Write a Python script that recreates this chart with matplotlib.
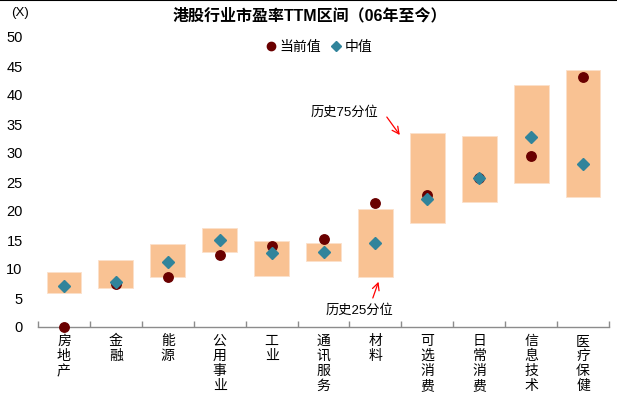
import matplotlib
matplotlib.use("Agg")
import matplotlib.pyplot as plt
import numpy as np
from matplotlib.lines import Line2D

plt.rcParams['font.family'] = ['Liberation Sans', 'Noto Sans CJK SC', 'DejaVu Sans']

categories = ["房地产", "金融", "能源", "公用事业", "工业", "通讯服务", "材料",
              "可选消费", "日常消费", "信息技术", "医疗保健"]
p75 = [9.5, 11.55, 14.3, 17.1, 14.9, 14.4, 20.3, 33.5, 32.9, 41.7, 44.3]
p25 = [5.9, 6.8, 8.7, 12.9, 8.8, 11.3, 8.6, 17.9, 21.5, 24.9, 22.4]
median = [7.1, 7.8, 11.15, 15.0, 12.7, 13.0, 14.4, 22.1, 25.7, 32.8, 28.1]
current = [0.0, 7.5, 8.6, 12.5, 13.9, 15.2, 21.4, 22.8, 25.7, 29.4, 43.1]
yticks = [0, 5, 10, 15, 20, 25, 30, 35, 40, 45, 50]

box_color = "#F9C293"
cur_color = "#6A0000"
med_color = "#31849B"

fig = plt.figure(figsize=(6.17, 3.97), dpi=100)
ax = fig.add_axes([38/617, 1-327/397, (609-38)/617, (327-37)/397])

x = np.arange(len(categories))
ax.bar(x, np.array(p75) - np.array(p25), bottom=p25, width=0.67,
       color=box_color, edgecolor="#FCE0CB", linewidth=0.6, zorder=2)
ax.plot(x, current, 'o', color=cur_color, markersize=6.8, zorder=3, clip_on=False)
ax.plot(x, median, 'D', color=med_color, markersize=5.8, zorder=4, clip_on=False)

ax.set_xlim(-0.5, len(categories) - 0.5)
ax.set_ylim(0, 50)
ax.set_yticks(yticks)
ax.set_yticklabels([str(v) for v in yticks], fontsize=10.5)
ax.tick_params(axis='y', length=0, pad=11)
for s in ['top', 'right', 'left']:
    ax.spines[s].set_visible(False)
ax.spines['bottom'].set_color('#8C8C8C')
ax.spines['bottom'].set_linewidth(1.0)

ax.set_xticks(x)
ax.set_xticklabels(["\n".join(c) for c in categories], fontsize=10,
                   linespacing=1.1, va='top')
ax.tick_params(axis='x', length=0, pad=5)
ax.set_xticks(np.arange(-0.5, len(categories), 1.0), minor=True)
ax.tick_params(axis='x', which='minor', length=4, direction='in', color='#8C8C8C', width=1.0)

# annotations
ax.text(5.4, 36.9, "历史75分位", fontsize=9.5, ha='center', va='center')
ax.annotate("", xy=(6.47, 33.1), xytext=(6.22, 36.2),
            arrowprops=dict(arrowstyle='->,head_length=0.5,head_width=0.25',
                            color='red', lw=0.9, shrinkA=0, shrinkB=0))
ax.text(5.7, 2.9, "历史25分位", fontsize=9.5, ha='center', va='center')
ax.annotate("", xy=(6.06, 7.8), xytext=(5.95, 5.0),
            arrowprops=dict(arrowstyle='->,head_length=0.5,head_width=0.25',
                            color='red', lw=0.9, shrinkA=0, shrinkB=0))

fig.text(310/617, 1-16/397, "港股行业市盈率TTM区间（06年至今）", fontsize=11.5,
         fontweight='bold', ha='center', va='center')
fig.text(20/617, 1-13/397, "(X)", fontsize=9.5, ha='center', va='center')

handles = [Line2D([], [], marker='o', color=cur_color, linestyle='None', markersize=6),
           Line2D([], [], marker='D', color=med_color, linestyle='None', markersize=5)]
fig.legend(handles, ["当前值", "中值"], loc='center', bbox_to_anchor=(318/617, 1-47/397),
           ncol=2, frameon=False, fontsize=10, handletextpad=0.1, columnspacing=0.6,
           handlelength=1.0)

fig.add_artist(Line2D([0, 1], [0.999, 0.999], transform=fig.transFigure, color='black', lw=1.5))

fig.savefig("out.png", dpi=100)
